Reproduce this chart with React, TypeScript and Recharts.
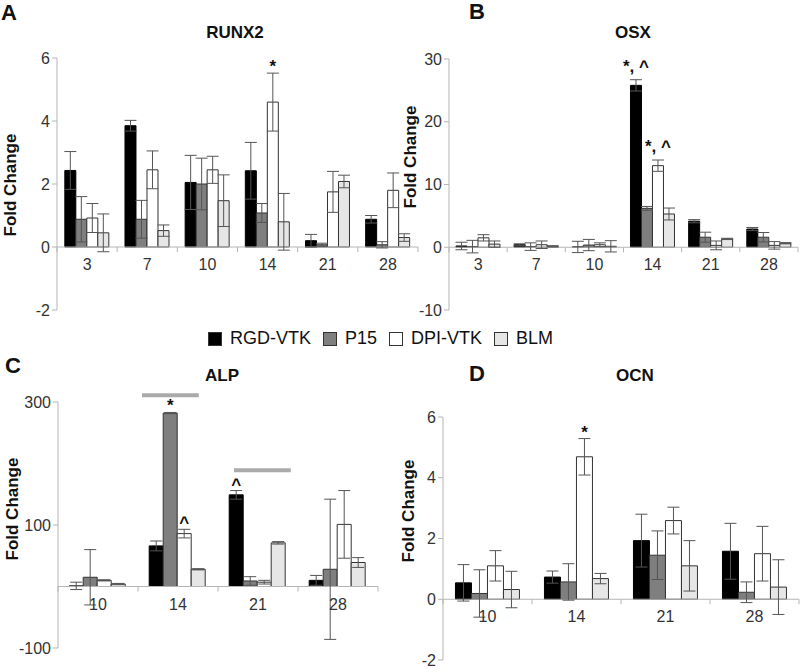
import React from 'react';
import {BarChart, Bar, XAxis, YAxis, ErrorBar, ReferenceLine, LabelList} from 'recharts';

const groups = ['RGD-VTK', 'P15', 'DPI-VTK', 'BLM'];
const fills = ['#000000', '#7f7f7f', '#ffffff', '#e6e6e6'];

// RUNX2
const runx2Days = ['3', '7', '10', '14', '21', '28'];
const runx2Vals = [
	[2.43, 3.85, 2.05, 2.42, 0.2, 0.88],
	[0.88, 0.88, 2.0, 1.08, 0.07, 0.07],
	[0.92, 2.45, 2.45, 4.6, 1.75, 1.8],
	[0.45, 0.52, 1.47, 0.8, 2.08, 0.3],
];
const runx2Errs = [
	[0.6, 0.17, 0.86, 0.9, 0.2, 0.12],
	[0.72, 0.6, 0.82, 0.3, 0.05, 0.1],
	[0.46, 0.6, 0.43, 0.92, 0.65, 0.55],
	[0.6, 0.18, 0.82, 0.9, 0.2, 0.12],
];
const runx2Marks = [
	['', '', '', '', '', ''],
	['', '', '', '', '', ''],
	['', '', '', '*', '', ''],
	['', '', '', '', '', ''],
];

// OSX
const osxDays = ['3', '7', '10', '14', '21', '28'];
const osxVals = [
	[0.2, 0.4, 0.05, 25.8, 4.15, 2.9],
	[0.1, 0.1, 0.35, 6.2, 1.6, 1.6],
	[1.5, 0.4, 0.4, 13.0, 0.3, 0.3],
	[0.5, 0.15, 0.15, 5.3, 1.33, 0.64],
];
const osxErrs = [
	[0.6, 0.15, 0.9, 0.9, 0.25, 0.25],
	[1.0, 0.6, 0.9, 0.3, 0.8, 0.75],
	[0.5, 0.6, 0.3, 0.9, 0.7, 0.6],
	[0.5, 0.1, 0.9, 0.95, 0.1, 0.1],
];
const osxMarks = [
	['', '', '', '*,^', '', ''],
	['', '', '', '', '', ''],
	['', '', '', '*,^', '', ''],
	['', '', '', '', '', ''],
];

// ALP
const alpDays = ['10', '14', '21', '28'];
const alpVals = [
	[1, 66, 149, 10],
	[15, 282, 9, 28],
	[10, 86, 7, 101],
	[4, 28, 71, 39],
];
const alpErrs = [
	[6, 8, 7, 8],
	[45, 1, 7, 114],
	[1, 7, 3, 55],
	[1, 1, 2, 8],
];
const alpMarks = [
	['', '', '^', ''],
	['', '*', '', ''],
	['', '^', '', ''],
	['', '', '', ''],
];
// grey bracket bars over groups: start, end (category units), level
const alpBrackets = [
	[1.05, 1.76, 311],
	[2.2, 2.91, 189],
];

// OCN
const ocnDays = ['10', '14', '21', '28'];
const ocnVals = [
	[0.54, 0.73, 1.93, 1.58],
	[0.19, 0.57, 1.45, 0.23],
	[1.1, 4.69, 2.59, 1.5],
	[0.32, 0.68, 1.1, 0.4],
];
const ocnErrs = [
	[0.6, 0.2, 0.87, 0.92],
	[0.78, 0.6, 0.8, 0.34],
	[0.5, 0.6, 0.44, 0.9],
	[0.6, 0.17, 0.83, 0.9],
];
const ocnMarks = [
	['', '', '', ''],
	['', '', '', ''],
	['', '*', '', ''],
	['', '', '', ''],
];

const W = 800;
const H = 672;
const axisGray = '#b5b5b5';
const font = 'Arial, "Liberation Sans", sans-serif';

function buildRows(days: string[], vals: number[][], errs: number[][], marks: string[][]) {
	return days.map((d, j) => {
		const r: any = {day: d, pos: j};
		vals.forEach((v, i) => {
			r['v' + i] = v[j];
			r['e' + i] = errs[i][j];
			r['s' + i] = marks[i][j];
		});
		return r;
	});
}

const sigLabel = (rows: any[], i: number) => (p: any) => {
	const r = rows[p.index];
	if (!r || !r['s' + i]) return null;
	const mark = r['s' + i];
	const perUnit = Math.abs(p.height) / Math.abs(r['v' + i]);
	const top = p.y - r['e' + i] * perUnit;
	return (
		<text
			x={p.x + p.width / 2}
			y={top + (mark.includes(',') ? -8 : -1)}
			textAnchor="middle"
			fontSize={17}
			fontWeight="bold"
			fontFamily={font}
			fill="#111"
		>
			{mark.replace(',', ', ')}
		</text>
	);
};

type PanelProps = {
	rows: any[];
	domain: [number, number];
	ticks: number[];
	left: number;
	right: number;
	top: number;
	bottom: number;
	gap: string;
	brackets?: number[][];
};

function Panel(props: PanelProps) {
	const {rows, domain, ticks, left, right, top, bottom, gap, brackets} = props;
	const yW = 40;
	const xH = 4;
	const n = rows.length;
	const band = (right - left) / n;
	const zeroY = top + ((bottom - top) * domain[1]) / (domain[1] - domain[0]);
	const tick = (p: any) => (
		<g>
			<line x1={p.x - band / 2} x2={p.x - band / 2} y1={zeroY} y2={zeroY + 5} stroke={axisGray} />
			{p.index === n - 1 && (
				<line x1={p.x + band / 2} x2={p.x + band / 2} y1={zeroY} y2={zeroY + 5} stroke={axisGray} />
			)}
			<text x={p.x} y={zeroY + 23} textAnchor="middle" fontSize={16} fontFamily={font} fill="#333">
				{p.payload.value}
			</text>
		</g>
	);
	return (
		<div style={{position: 'absolute', left: 0, top: 0}}>
			<BarChart
				width={W}
				height={H}
				data={rows}
				margin={{top, left: left - yW, right: W - right, bottom: H - bottom - xH}}
				barCategoryGap={gap}
				barGap={0}
			>
				<XAxis dataKey="day" height={xH} axisLine={false} tickLine={false} tick={tick} interval={0} />
				<XAxis
					xAxisId="num"
					dataKey="pos"
					type="number"
					domain={[0, n]}
					allowDataOverflow
					height={0}
					hide
				/>
				<YAxis
					width={yW}
					domain={domain}
					ticks={ticks}
					interval={0}
					axisLine={{stroke: axisGray}}
					tickLine={{stroke: axisGray}}
					tickSize={5}
					tick={{fontSize: 16, fill: '#333', fontFamily: font}}
				/>
				<ReferenceLine y={0} stroke={axisGray} />
				{groups.map((g, i) => (
					<Bar
						key={g}
						dataKey={'v' + i}
						name={g}
						fill={fills[i]}
						stroke={i === 0 ? '#000' : '#333'}
						strokeWidth={1}
						isAnimationActive={false}
					>
						<ErrorBar dataKey={'e' + i} width={6} stroke="#555" strokeWidth={1} />
						<LabelList dataKey={'s' + i} content={sigLabel(rows, i)} />
					</Bar>
				))}
				{(brackets || []).map((b, k) => (
					<ReferenceLine
						key={k}
						xAxisId="num"
						segment={[
							{x: b[0], y: b[2]},
							{x: b[1], y: b[2]},
						]}
						stroke="#aaaaaa"
						strokeWidth={4}
						ifOverflow="visible"
					/>
				))}
			</BarChart>
		</div>
	);
}

function Txt(props: {x: number; y: number; size: number; bold?: boolean; children: React.ReactNode; rotate?: boolean}) {
	return (
		<div
			style={{
				position: 'absolute',
				left: props.x,
				top: props.y,
				transform: `translate(-50%, -50%)${props.rotate ? ' rotate(-90deg)' : ''}`,
				fontSize: props.size,
				fontWeight: props.bold ? 'bold' : 'normal',
				whiteSpace: 'nowrap',
				lineHeight: 1,
				color: '#111',
			}}
		>
			{props.children}
		</div>
	);
}

function Legend() {
	return (
		<div style={{position: 'absolute', left: 208, top: 328, display: 'flex', alignItems: 'center', fontSize: 18, color: '#111'}}>
			{groups.map((g, i) => (
				<div key={g} style={{display: 'flex', alignItems: 'center', marginRight: 12}}>
					<span
						style={{
							display: 'inline-block',
							width: 12,
							height: 12,
							background: fills[i],
							border: '1px solid #333',
							marginRight: 8,
						}}
					/>
					{g}
				</div>
			))}
		</div>
	);
}

export default function App() {
	return (
		<div style={{position: 'absolute', left: 0, top: 0, width: W, height: H, background: '#fff', fontFamily: font, overflow: 'hidden'}}>
			<Panel rows={buildRows(runx2Days, runx2Vals, runx2Errs, runx2Marks)} domain={[-2, 6]} ticks={[-2, 0, 2, 4, 6]} left={57} right={418} top={58} bottom={310} gap="13%" />
			<Panel rows={buildRows(osxDays, osxVals, osxErrs, osxMarks)} domain={[-10, 30]} ticks={[-10, 0, 10, 20, 30]} left={449} right={798} top={59} bottom={310} gap="12%" />
			<Panel rows={buildRows(alpDays, alpVals, alpErrs, alpMarks)} domain={[-100, 300]} ticks={[-100, 100, 300]} left={58} right={378} top={402} bottom={648} gap="14%" brackets={alpBrackets} />
			<Panel rows={buildRows(ocnDays, ocnVals, ocnErrs, ocnMarks)} domain={[-2, 6]} ticks={[-2, 0, 2, 4, 6]} left={443} right={799} top={417} bottom={660} gap="14%" />

			<Txt x={9} y={13} size={22} bold>A</Txt>
			<Txt x={477} y={12} size={22} bold>B</Txt>
			<Txt x={13} y={366} size={22} bold>C</Txt>
			<Txt x={477} y={374} size={22} bold>D</Txt>

			<Txt x={235} y={32} size={17} bold>RUNX2</Txt>
			<Txt x={633} y={32} size={17} bold>OSX</Txt>
			<Txt x={222} y={375} size={17} bold>ALP</Txt>
			<Txt x={635} y={375} size={17} bold>OCN</Txt>

			<Txt x={10} y={185} size={17} bold rotate>Fold Change</Txt>
			<Txt x={410} y={157} size={17} bold rotate>Fold Change</Txt>
			<Txt x={12} y={509} size={17} bold rotate>Fold Change</Txt>
			<Txt x={408} y={511} size={17} bold rotate>Fold Change</Txt>

			<Legend />
		</div>
	);
}
